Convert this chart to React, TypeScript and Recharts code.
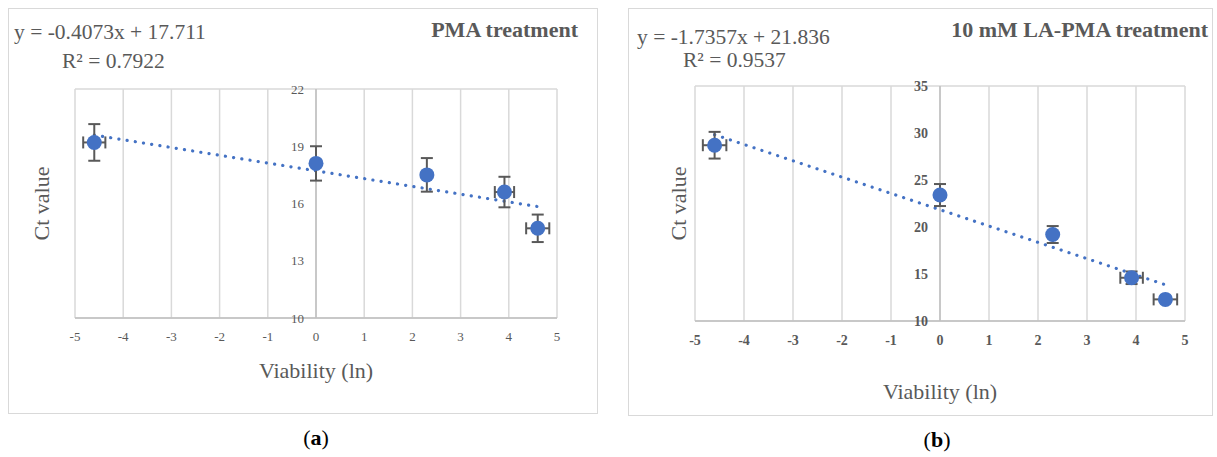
import React from "react";
import {
  ScatterChart,
  Scatter,
  XAxis,
  YAxis,
  CartesianGrid,
  ErrorBar,
  ReferenceLine,
  ReferenceDot,
  Label,
} from "recharts";

// ln(viability) values, shared x ticks
const ticksX = [-5, -4, -3, -2, -1, 0, 1, 2, 3, 4, 5];

// (a) PMA treatment
const viabilityA = [-4.6, 0, 2.3, 3.91, 4.6];
const ctA = [19.2, 18.1, 17.5, 16.6, 14.7];
const ctErrA = [0.96, 0.9, 0.88, 0.8, 0.72];
const viabErrA = [0.23, 0, 0, 0.2, 0.24];
const ticksYA = [10, 13, 16, 19, 22];
const slopeA = -0.4073;
const interceptA = 17.711;

// (b) 10 mM LA-PMA treatment
const viabilityB = [-4.6, 0, 2.3, 3.91, 4.6];
const ctB = [28.7, 23.4, 19.2, 14.6, 12.3];
const ctErrB = [1.42, 1.17, 0.9, 0.67, 0.3];
const viabErrB = [0.24, 0, 0, 0.23, 0.24];
const ticksYB = [10, 15, 20, 25, 30, 35];
const slopeB = -1.7357;
const interceptB = 21.836;

const trendRange = [-4.6, 4.6];

const font = "Liberation Serif, Times New Roman, serif";
const grey = "#595959";
const blue = "#4472C4";

type PanelProps = {
  left: number;
  top: number;
  width: number;
  height: number;
  xs: number[];
  ys: number[];
  xErr: number[];
  yErr: number[];
  yTicks: number[];
  slope: number;
  intercept: number;
  margin: { top: number; right: number; bottom: number; left: number };
  yAxisWidth: number;
  xAxisHeight: number;
  tickSize: number;
  tickWeight: string;
};

function Panel(p: PanelProps) {
  const data = p.xs.map((x, i) => ({ x, y: p.ys[i], ex: p.xErr[i], ey: p.yErr[i] }));
  const seg = trendRange.map((x) => ({ x, y: p.slope * x + p.intercept }));
  const yDomain = [p.yTicks[0], p.yTicks[p.yTicks.length - 1]];
  return (
    <>
      <div
        style={{
          position: "absolute",
          left: p.left,
          top: p.top,
          width: p.width,
          height: p.height,
          border: "1.5px solid #d9d9d9",
          boxSizing: "border-box",
        }}
      />
      <div style={{ position: "absolute", left: p.left, top: p.top }}>
        <ScatterChart width={p.width} height={p.height} margin={p.margin}>
          <CartesianGrid stroke="#d9d9d9" strokeWidth={1.5} />
          <XAxis
            type="number"
            dataKey="x"
            domain={[-5, 5]}
            ticks={ticksX}
            interval={0}
            allowDataOverflow
            tickLine={false}
            axisLine={{ stroke: "#bfbfbf", strokeWidth: 1.5 }}
            tick={{ fill: grey, fontSize: p.tickSize, fontWeight: p.tickWeight }}
            tickMargin={8}
            height={p.xAxisHeight}
          >
            <Label value="Viability (ln)" position="insideBottom" offset={0} fill={grey} fontSize={22} />
          </XAxis>
          <YAxis
            type="number"
            dataKey="y"
            domain={yDomain}
            ticks={p.yTicks}
            allowDataOverflow
            tick={false}
            tickLine={false}
            axisLine={false}
            width={p.yAxisWidth}
          >
            <Label value="Ct value" position="center" angle={-90} fill={grey} fontSize={22} />
          </YAxis>
          <ReferenceLine x={0} stroke="#bfbfbf" strokeWidth={1.5} />
          {p.yTicks.map((v) => (
            <ReferenceDot
              key={v}
              x={0}
              y={v}
              r={0}
              fill="none"
              stroke="none"
              ifOverflow="visible"
              label={{
                value: String(v),
                position: "left",
                offset: 12,
                fill: grey,
                fontSize: p.tickSize,
                fontWeight: p.tickWeight,
              }}
            />
          ))}
          <ReferenceLine
            segment={seg}
            stroke={blue}
            strokeWidth={3.2}
            strokeDasharray="0.1 8.2"
            strokeLinecap="round"
            ifOverflow="visible"
          />
          <Scatter
            data={data}
            isAnimationActive={false}
            shape={(s: any) => <circle cx={s.cx} cy={s.cy} r={7.5} fill={blue} />}
          >
            <ErrorBar dataKey="ey" direction="y" width={6} stroke={grey} strokeWidth={2} isAnimationActive={false} />
            <ErrorBar dataKey="ex" direction="x" width={6} stroke={grey} strokeWidth={2} isAnimationActive={false} />
          </Scatter>
        </ScatterChart>
      </div>
    </>
  );
}

const txt = (extra: React.CSSProperties): React.CSSProperties => ({
  position: "absolute",
  color: grey,
  whiteSpace: "nowrap",
  lineHeight: "22px",
  ...extra,
});

export default function App() {
  return (
    <div
      style={{
        position: "absolute",
        left: 0,
        top: 0,
        width: 1217,
        height: 457,
        background: "#fff",
        fontFamily: font,
      }}
    >
      <style>{`svg text, .recharts-text { font-family: ${font} !important; }`}</style>
      <Panel
        left={8}
        top={8}
        width={590}
        height={406}
        xs={viabilityA}
        ys={ctA}
        xErr={viabErrA}
        yErr={ctErrA}
        yTicks={ticksYA}
        slope={slopeA}
        intercept={interceptA}
        margin={{ top: 81, right: 41, bottom: 36, left: 0 }}
        yAxisWidth={67}
        xAxisHeight={60}
        tickSize={13}
        tickWeight="normal"
      />
      <Panel
        left={628}
        top={8}
        width={585}
        height={408}
        xs={viabilityB}
        ys={ctB}
        xErr={viabErrB}
        yErr={ctErrB}
        yTicks={ticksYB}
        slope={slopeB}
        intercept={interceptB}
        margin={{ top: 78, right: 28, bottom: 17, left: 33 }}
        yAxisWidth={34}
        xAxisHeight={78}
        tickSize={14}
        tickWeight="bold"
      />

      <div style={txt({ left: 14, top: 21, fontSize: 21.5 })}>y = -0.4073x + 17.711</div>
      <div style={txt({ left: 62, top: 50, fontSize: 21.5 })}>R² = 0.7922</div>
      <div style={txt({ right: 1217 - 578, top: 19, fontSize: 22, fontWeight: "bold" })}>PMA treatment</div>

      <div style={txt({ left: 637, top: 26, fontSize: 21.5 })}>y = -1.7357x + 21.836</div>
      <div style={txt({ left: 683, top: 49, fontSize: 21.5 })}>R² = 0.9537</div>
      <div style={txt({ right: 1217 - 1208, top: 19, fontSize: 22, fontWeight: "bold" })}>10 mM LA-PMA treatment</div>

      <div style={txt({ left: 316, top: 427, fontSize: 22, color: "#000", transform: "translateX(-50%)" })}>
        (<b>a</b>)
      </div>
      <div style={txt({ left: 937, top: 429, fontSize: 22, color: "#000", transform: "translateX(-50%)" })}>
        (<b>b</b>)
      </div>
    </div>
  );
}
